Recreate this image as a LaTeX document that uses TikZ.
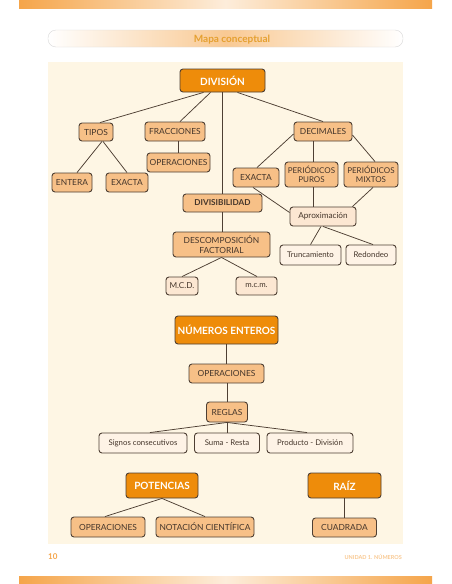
\documentclass[tikz,border=0pt]{standalone}
\usepackage{fontspec}
\setmainfont{Lato}
\definecolor{dorange}{HTML}{EE8C0A}
\definecolor{morange}{HTML}{F7C087}
\definecolor{lorange}{HTML}{FCE7D2}
\definecolor{xlorange}{HTML}{FEF3E6}
\definecolor{panel}{HTML}{FEF6E4}
\definecolor{bord}{HTML}{4E3F33}
\definecolor{txt}{HTML}{45362B}
\definecolor{band}{HTML}{F5A54A}
\definecolor{titlec}{HTML}{E5A030}
\tikzset{
  box/.style={draw=bord, line width=0.9pt, rounded corners=3pt, inner sep=1pt, align=center, text=txt},
  mainbox/.style={box, fill=dorange, text=white, font=\fontsize{10}{11}\selectfont\bfseries},
  medbox/.style={box, fill=morange, font=\fontsize{8.4}{9.8}\selectfont},
  apbox/.style={box, fill=lorange, font=\fontsize{8.2}{9.5}\selectfont},
  lightbox/.style={box, fill=xlorange, font=\fontsize{7.8}{9}\selectfont},
  conn/.style={draw=bord, line width=0.75pt},
  sz/.style n args={2}{minimum width=#1pt, minimum height=#2pt}
}
\begin{document}
\begin{tikzpicture}[x=1pt, y=-1pt]
\useasboundingbox (0,0) rectangle (452,584);
\fill[white] (0,0) rectangle (452,584);
% bands
\shade[left color=band, right color=band, middle color=band!20] (19,0) rectangle (432,8);
\shade[left color=band, right color=band, middle color=band!20] (19,576) rectangle (432,584);
% title bar
\shade[rounded corners=8pt, left color=white, right color=white, middle color=band!60] (48,30) rectangle (403,47);
\draw[rounded corners=8pt, draw=black!15, line width=0.4pt] (48,30) rectangle (403,47);
\node[text=titlec, font=\fontsize{10}{12}\selectfont\bfseries] (title) at (232,39.5) {Mapa conceptual};
% panel
\fill[panel] (48,62) rectangle (403,544);
% footer
\node[text=band, font=\fontsize{8}{10}\selectfont\bfseries, anchor=west, inner sep=0pt] (pag) at (48,557) {10};
\node[text=band!60, font=\fontsize{5.5}{7}\selectfont\bfseries, anchor=east, inner sep=0pt] (unidad) at (402,557) {UNIDAD 1. NÚMEROS};

% ---- DIVISION ----
\node[mainbox, sz={85}{23}] (div) at (222.5,80.5) {DIVISIÓN};
\node[medbox, sz={34}{18}] (tipos) at (96,132) {TIPOS};
\node[medbox, sz={60}{19}] (fracc) at (175,131.5) {FRACCIONES};
\node[medbox, sz={63}{19}] (opf) at (178.5,162.5) {OPERACIONES};
\node[medbox, sz={58}{19}] (decim) at (323,131.5) {DECIMALES};
\node[medbox, sz={40}{19}] (entera) at (72,182.5) {ENTERA};
\node[medbox, sz={42}{19}] (exactaL) at (127,182.5) {EXACTA};
\node[medbox, sz={46}{19}] (exactaR) at (256,177.5) {EXACTA};
\node[medbox, sz={53}{25}, font=\fontsize{8}{9}\selectfont] (puros) at (311.5,174.5) {PERIÓDICOS\\PUROS};
\node[medbox, sz={54}{25}, font=\fontsize{8}{9}\selectfont] (mixtos) at (371,174.5) {PERIÓDICOS\\MIXTOS};
\node[medbox, sz={79}{18}, font=\fontsize{8.2}{9.5}\selectfont\bfseries] (divis) at (222.5,203) {DIVISIBILIDAD};
\node[apbox, sz={66}{19}] (aprox) at (323,216.5) {Aproximación};
\node[medbox, sz={97}{25}] (descomp) at (221.5,244.5) {DESCOMPOSICIÓN\\FACTORIAL};
\node[lightbox, sz={61}{20}] (trunc) at (310.5,255) {Truncamiento};
\node[lightbox, sz={50}{20}] (redon) at (371,255) {Redondeo};
\node[apbox, sz={32}{18}] (mcd) at (182,286) {M.C.D.};
\node[apbox, sz={41}{18}, font=\fontsize{7.8}{9}\selectfont] (mcm) at (256.5,286) {m.c.m.};

\draw[conn] ([xshift=-19pt]div.south) -- ([xshift=4pt]tipos.north);
\draw[conn] ([xshift=-12pt]div.south) -- ([xshift=5pt]fracc.north);
\draw[conn] (div.south) -- (div.south |- divis.north);
\draw[conn] ([xshift=15pt]div.south) -- (decim.north);
\draw[conn] ([xshift=6pt]tipos.south) -- ([xshift=5pt]entera.north);
\draw[conn] ([xshift=7pt]tipos.south) -- (exactaL.north);
\draw[conn] (opf.north) -- (opf.north |- fracc.south);
\draw[conn] ([yshift=-2.5pt]decim.west) -- ([xshift=1pt]exactaR.north);
\draw[conn] ([xshift=1.5pt]puros.north) -- ([xshift=1.5pt]puros.north |- decim.south);
\draw[conn] ([yshift=-3.5pt]decim.east) -- ([xshift=4pt]mixtos.north);
\draw[conn] ([xshift=-3pt]exactaR.south) -- ([yshift=4pt]aprox.west);
\draw[conn] ([xshift=1.5pt]puros.south) -- ([xshift=1.5pt]puros.south |- aprox.north);
\draw[conn] ([xshift=2pt]mixtos.south) -- ([xshift=-4pt]aprox.north east);
\draw[conn] ([xshift=-2pt]aprox.south) -- (trunc.north);
\draw[conn] (aprox.south) -- ([xshift=2pt]redon.north);
\draw[conn] (divis.south) -- (divis.south |- descomp.north);
\draw[conn] (descomp.south) -- (mcd.north);
\draw[conn] (descomp.south) -- ([xshift=0.5pt]mcm.north);

% ---- NUMEROS ENTEROS ----
\node[mainbox, sz={103}{28}] (numeros) at (226.5,330) {NÚMEROS ENTEROS};
\node[medbox, sz={75}{19}] (opn) at (226.5,373.5) {OPERACIONES};
\node[medbox, sz={41}{20}] (reglas) at (227,412) {REGLAS};
\node[lightbox, sz={88}{20}] (signos) at (143,443) {Signos consecutivos};
\node[lightbox, sz={65}{20}] (suma) at (227,443) {Suma - Resta};
\node[lightbox, sz={86}{20}] (producto) at (310,443) {Producto - División};
\draw[conn] (numeros.south) -- (numeros.south |- opn.north);
\draw[conn] (reglas.north) -- (reglas.north |- opn.south);
\draw[conn] (reglas.south) -- ([xshift=7pt]signos.north);
\draw[conn] (reglas.south) -- (suma.north);
\draw[conn] (reglas.south) -- ([xshift=-3pt]producto.north);

% ---- POTENCIAS / RAIZ ----
\node[mainbox, sz={72}{25}] (potencias) at (162,485.5) {POTENCIAS};
\node[mainbox, sz={73}{25}] (raiz) at (344.5,485.5) {RAÍZ};
\node[medbox, sz={74}{20}] (opp) at (108,527) {OPERACIONES};
\node[medbox, sz={98}{20}] (notacion) at (205,527) {NOTACIÓN CIENTÍFICA};
\node[medbox, sz={64}{19}] (cuadrada) at (344.5,527.5) {CUADRADA};
\draw[conn] (potencias.south) -- ([xshift=-3pt]opp.north);
\draw[conn] (potencias.south) -- (notacion.north);
\draw[conn] (raiz.south) -- (cuadrada.north);
\end{tikzpicture}
\end{document}
